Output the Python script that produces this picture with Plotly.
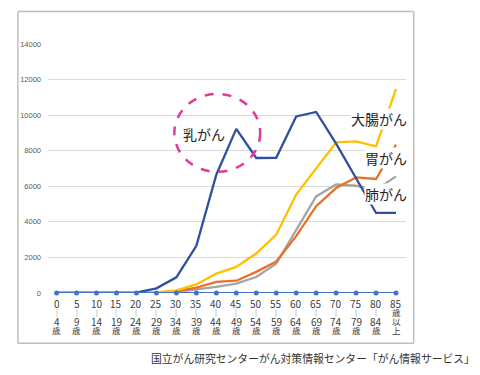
import plotly.graph_objects as go

# ---- data ----
age_from = ["0", "5", "10", "15", "20", "25", "30", "35", "40", "45",
            "50", "55", "60", "65", "70", "75", "80", "85"]
age_to = ["4", "9", "14", "19", "24", "29", "34", "39", "44", "49",
          "54", "59", "64", "69", "74", "79", "84", "以"]
sep_line = ["|"] * 17 + ["歳"]
last_line = ["歳"] * 17 + ["上"]

breast = [0, 0, 0, 0, 20, 260, 880, 2650, 6650, 9230,
          7590, 7600, 9930, 10180, 8400, 6450, 4500, 4510]
colon = [0, 0, 0, 0, 5, 40, 150, 480, 1090, 1470,
         2220, 3280, 5530, 7030, 8470, 8530, 8250, 11470]
stomach = [0, 0, 0, 0, 3, 20, 100, 300, 620, 690,
           1190, 1770, 3200, 4880, 5900, 6500, 6410, 8340]
lung = [0, 0, 0, 0, 2, 15, 60, 190, 340, 530,
        900, 1650, 3550, 5430, 6100, 6030, 5800, 6560]
male_breast = [0] * 18

y_ticks = [0, 2000, 4000, 6000, 8000, 10000, 12000, 14000]
source = "国立がん研究センターがん対策情報センター「がん情報サービス」"

idx = list(range(len(age_from)))

fig = go.Figure()
series = [
    (lung, "#A5A5A5"),
    (stomach, "#E8702A"),
    (colon, "#FFC000"),
    (breast, "#2F4F9F"),
]
for vals, col in series:
    fig.add_trace(go.Scatter(x=idx, y=vals, mode="lines",
                             line=dict(color=col, width=2.3),
                             cliponaxis=False, showlegend=False))
fig.add_trace(go.Scatter(x=idx, y=male_breast, mode="lines+markers",
                         line=dict(color="#4472C4", width=2),
                         marker=dict(color="#4472C4", size=5),
                         cliponaxis=False, showlegend=False))

# page body has an 8px margin; work in window pixels and shift
OFF = 8
FW, FH = 480 - OFF, 375 - OFF
L, R, T, B = 43 - OFF, 405.7 - OFF, 44 - OFF, 293.3 - OFF
W, H = R - L, B - T

def px_to_paper(px, py):
    return (px - OFF - L) / W, (B - (py - OFF)) / H

annotations = []
jp = "Noto Sans CJK JP"
lines = [(age_from, 304, 10, "#404040"),
         (sep_line, 312.7, 7, "#8a8a8a"),
         (age_to, 321.7, 10, "#404040"),
         (last_line, 330.5, 8.5, "#404040")]
for labels, py, fs, col in lines:
    _, yp = px_to_paper(0, py)
    for i, t in enumerate(labels):
        c = col
        s = fs
        if t in ("歳", "以", "上"):
            s = 8.5
            c = "#404040"
        annotations.append(dict(x=i, y=yp, xref="x", yref="paper", text=t,
                                showarrow=False, xanchor="center", yanchor="middle",
                                font=dict(family=jp, size=s, color=c)))

def label(text, cx, cy):
    xp, yp = px_to_paper(cx, cy)
    annotations.append(dict(x=xp, y=yp, xref="paper", yref="paper", text=text,
                            showarrow=False, xanchor="center", yanchor="middle",
                            bgcolor="white", borderpad=0,
                            font=dict(family=jp, size=14, color="#262626")))

label("乳がん", 201, 134)
label("大腸がん", 378, 119)
label("胃がん", 385, 158)
label("肺がん", 385, 194)

xp, yp = px_to_paper(478, 358)
annotations.append(dict(x=xp, y=yp, xref="paper", yref="paper", text=source,
                        showarrow=False, xanchor="right", yanchor="middle",
                        font=dict(family=jp, size=10.8, color="#333333")))

x0, y0 = px_to_paper(12.5, 343.5)
x1, y1 = px_to_paper(413.5, 11.5)
cx0, cy0 = px_to_paper(171, 172)
cx1, cy1 = px_to_paper(258, 94)
frame_line = dict(color="#BFBFBF", width=1.5)
shapes = [
    dict(type="line", xref="paper", yref="paper", x0=x0, y0=y0, x1=x1, y1=y0, line=frame_line),
    dict(type="line", xref="paper", yref="paper", x0=x0, y0=y1, x1=x1, y1=y1, line=frame_line),
    dict(type="line", xref="paper", yref="paper", x0=x0, y0=y0, x1=x0, y1=y1, line=frame_line),
    dict(type="line", xref="paper", yref="paper", x0=x1, y0=y0, x1=x1, y1=y1, line=frame_line),
    dict(type="circle", xref="paper", yref="paper", x0=cx0, y0=cy0, x1=cx1, y1=cy1,
         line=dict(color="#E0399A", width=2.5, dash="dash")),
]

fig.update_layout(
    width=FW, height=FH,
    margin=dict(l=L, r=FW - R, t=T, b=FH - B),
    paper_bgcolor="white", plot_bgcolor="white",
    xaxis=dict(range=[-0.43, 17.5], showticklabels=False, showgrid=False,
               zeroline=False, showline=False, fixedrange=True),
    yaxis=dict(range=[0, 14000], tickvals=y_ticks, ticktext=[str(v) for v in y_ticks],
               showgrid=True, gridcolor="#D9D9D9", gridwidth=1, zeroline=False,
               showline=False, ticks="", ticklabelstandoff=6,
               tickfont=dict(family="Liberation Sans", size=7.5, color="#595959")),
    annotations=annotations, shapes=shapes,
)

fig.write_html("out.html")
